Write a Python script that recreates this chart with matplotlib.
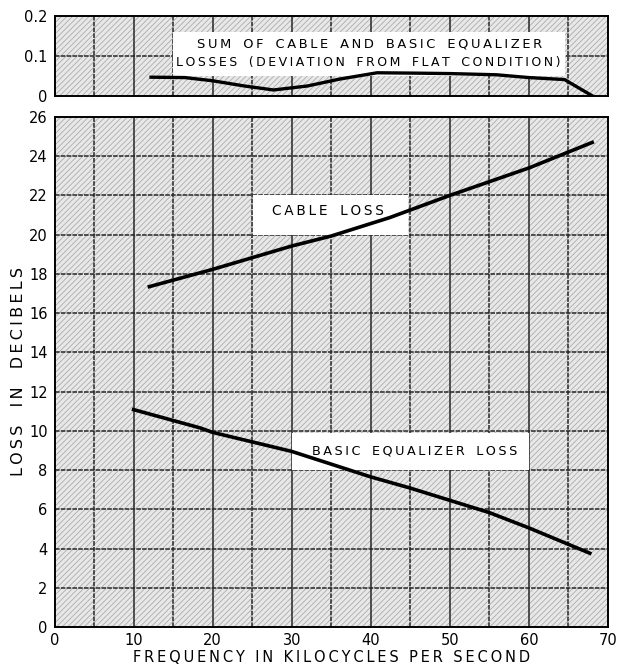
import matplotlib
matplotlib.use("Agg")
import matplotlib.pyplot as plt
from matplotlib.patches import Rectangle
import numpy as np

# ---- data ----
cable_freq = [12, 20, 30, 35, 42.4, 50, 60, 68]
cable_loss = [17.35, 18.23, 19.42, 19.93, 20.87, 22.0, 23.4, 24.7]

eq_freq = [10, 18.4, 20, 30, 40, 45, 55, 60, 67.7]
eq_loss = [11.08, 10.15, 9.92, 8.95, 7.65, 7.08, 5.83, 5.05, 3.76]

dev_freq = [12, 16.5, 20, 24, 27.7, 32, 36, 40.8, 46, 50, 55.9, 60, 64.5, 68.3]
dev_val = [0.047, 0.046, 0.038, 0.025, 0.015, 0.025, 0.042, 0.058, 0.057, 0.056, 0.053, 0.046, 0.041, -0.003]

x_ticks = [0, 10, 20, 30, 40, 50, 60, 70]
y_ticks = list(range(0, 27, 2))
top_ticks = [0, 0.1, 0.2]
top_tick_labels = ["0", "0.1", "0.2"]

plt.rcParams['font.family'] = ['DejaVu Sans']
plt.rcParams['hatch.linewidth'] = 0.6
plt.rcParams['hatch.color'] = '#acacac'

def spaced(s, word_gap='\u2009'):
    return '\u2009'.join(s).replace(' ', ' ' + word_gap)

fig = plt.figure(figsize=(6.18, 6.66), dpi=100)
ax_top = fig.add_axes([0.0882, 0.8559, 0.8956, 0.1201])
ax = fig.add_axes([0.0882, 0.0586, 0.8956, 0.7658])

grid_c = '#262626'

def style(a, xlim, ylim, hlines):
    a.set_xlim(*xlim)
    a.set_ylim(*ylim)
    a.set_facecolor('#e8e8e8')
    a.add_patch(Rectangle((0, 0), 1, 1, transform=a.transAxes, facecolor='none',
                          hatch='//////', edgecolor='#acacac', linewidth=0, zorder=0.5))
    for xv in np.arange(5, 70, 5):
        ls = '-' if xv % 10 == 0 else (0, (3, 0.8))
        a.axvline(xv, color=grid_c, lw=1.1, ls=ls, zorder=1)
    for yv in hlines:
        a.axhline(yv, color=grid_c, lw=1.1, ls=(0, (3, 0.8)), zorder=1)
    for s in a.spines.values():
        s.set_color('black')
        s.set_linewidth(1.4)
    a.tick_params(length=0, labelsize=10.5, colors='black', pad=5)

style(ax_top, (0, 70), (0, 0.2), [0.1])
ax_top.set_xticks([])
ax_top.set_yticks(top_ticks)
ax_top.set_yticklabels(top_tick_labels)

style(ax, (0, 70), (0, 26), y_ticks[1:-1])
ax.set_xticks(x_ticks)
ax.set_yticks(y_ticks)
ax.tick_params(axis='x', pad=4)

# top text box
ax_top.add_patch(Rectangle((15, 0.05), 49.5, 0.11, facecolor='white', edgecolor='none', zorder=2))
ax_top.text(39.8, 0.13, spaced("SUM OF CABLE AND BASIC EQUALIZER"), ha='center', va='center',
            fontsize=9.4, zorder=3)
ax_top.text(39.7, 0.083, spaced("LOSSES (DEVIATION FROM FLAT CONDITION)"), ha='center', va='center',
            fontsize=9.0, zorder=3)
ax_top.plot(dev_freq, dev_val, color='black', lw=2.4, zorder=4, clip_on=True,
            solid_capstyle='butt')

# main boxes and labels
ax.add_patch(Rectangle((25.1, 20.0), 19.6, 2.0, facecolor='white', edgecolor='none', zorder=2))
ax.text(34.6, 21.2, spaced("CABLE LOSS"), ha='center', va='center', fontsize=9.8, zorder=3)
ax.add_patch(Rectangle((30, 8.0), 30, 1.9, facecolor='white', edgecolor='none', zorder=2))
ax.text(45.5, 8.95, spaced("BASIC EQUALIZER LOSS"), ha='center', va='center', fontsize=9.2, zorder=3)

ax.plot(cable_freq, cable_loss, color='black', lw=2.6, zorder=4)
ax.plot(eq_freq, eq_loss, color='black', lw=2.6, zorder=4)

ax.set_ylabel(spaced("LOSS IN DECIBELS", word_gap='\u2009\u2009'), fontsize=11.5, labelpad=2)
ax.set_xlabel(spaced("FREQUENCY IN KILOCYCLES PER SECOND", word_gap=''), fontsize=10.5, labelpad=2)

fig.savefig("out.png", dpi=100, facecolor='white')
